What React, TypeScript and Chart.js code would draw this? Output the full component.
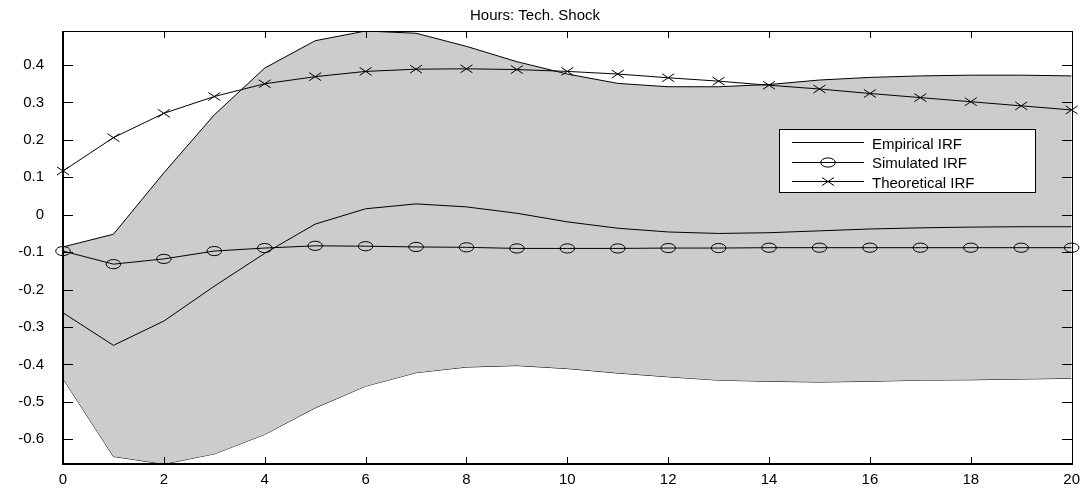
import React, { useEffect, useRef } from 'react';
import { Chart, registerables } from 'chart.js';

Chart.register(...registerables);

const chartTitle = 'Hours: Tech. Shock';
const horizons = [0, 1, 2, 3, 4, 5, 6, 7, 8, 9, 10, 11, 12, 13, 14, 15, 16, 17, 18, 19, 20];
const upperBand = [-0.086, -0.052, 0.112, 0.267, 0.392, 0.465, 0.491, 0.485, 0.45, 0.409, 0.376, 0.351, 0.342, 0.342, 0.348, 0.36, 0.367, 0.371, 0.373, 0.373, 0.371];
const lowerBand = [-0.438, -0.646, -0.666, -0.639, -0.587, -0.516, -0.458, -0.422, -0.407, -0.403, -0.411, -0.423, -0.433, -0.442, -0.445, -0.447, -0.445, -0.442, -0.441, -0.439, -0.437];
const empiricalIRF = [-0.262, -0.349, -0.284, -0.191, -0.103, -0.025, 0.016, 0.029, 0.021, 0.004, -0.019, -0.036, -0.046, -0.05, -0.048, -0.043, -0.038, -0.035, -0.033, -0.032, -0.032];
const simulatedIRF = [-0.097, -0.132, -0.118, -0.097, -0.089, -0.083, -0.084, -0.086, -0.087, -0.09, -0.09, -0.09, -0.089, -0.089, -0.088, -0.088, -0.088, -0.088, -0.088, -0.088, -0.088];
const theoreticalIRF = [0.117, 0.206, 0.271, 0.316, 0.35, 0.369, 0.383, 0.389, 0.39, 0.388, 0.383, 0.376, 0.366, 0.357, 0.346, 0.336, 0.324, 0.313, 0.302, 0.291, 0.28];
const seriesLabels = ['Empirical IRF', 'Simulated IRF', 'Theoretical IRF'];
const xTicks = [0, 2, 4, 6, 8, 10, 12, 14, 16, 18, 20];
const yTicks = [-0.6, -0.5, -0.4, -0.3, -0.2, -0.1, 0, 0.1, 0.2, 0.3, 0.4];
const yMin = -0.666;
const yMax = 0.491;

const FONT = "'Liberation Sans', Arial, sans-serif";

type MarkerKind = 'none' | 'ellipse' | 'cross';

function drawMarker(ctx: CanvasRenderingContext2D, kind: MarkerKind, x: number, y: number) {
  ctx.beginPath();
  if (kind === 'ellipse') {
    ctx.ellipse(x, y, 7.3, 4.6, 0, 0, Math.PI * 2);
  } else if (kind === 'cross') {
    ctx.moveTo(x - 6, y - 4);
    ctx.lineTo(x + 6, y + 4);
    ctx.moveTo(x + 6, y - 4);
    ctx.lineTo(x - 6, y + 4);
  }
  ctx.stroke();
}

export default function App() {
  const ref = useRef<HTMLCanvasElement | null>(null);

  useEffect(() => {
    if (!ref.current) return;

    const markerPlugin = {
      id: 'markers',
      afterDatasetsDraw(chart: any) {
        const ctx = chart.ctx as CanvasRenderingContext2D;
        ctx.save();
        ctx.strokeStyle = '#000';
        ctx.lineWidth = 1;
        chart.data.datasets.forEach((ds: any, i: number) => {
          const kind: MarkerKind = ds.markerKind || 'none';
          if (kind === 'none') return;
          const meta = chart.getDatasetMeta(i);
          meta.data.forEach((pt: any) => drawMarker(ctx, kind, pt.x, pt.y));
        });
        ctx.restore();
      },
    };

    const framePlugin = {
      id: 'frame',
      afterDraw(chart: any) {
        const ctx = chart.ctx as CanvasRenderingContext2D;
        const a = chart.chartArea;
        const xs = chart.scales.x;
        const ys = chart.scales.y;
        const L = Math.round(a.left), R = Math.round(a.right), T = Math.round(a.top), B = Math.round(a.bottom);
        ctx.save();
        ctx.strokeStyle = '#000';
        ctx.lineWidth = 1;
        ctx.beginPath();
        for (const v of yTicks) {
          const y = Math.round(ys.getPixelForValue(v)) + 0.5;
          ctx.moveTo(L, y);
          ctx.lineTo(L + 10, y);
          ctx.moveTo(R, y);
          ctx.lineTo(R - 10, y);
        }
        for (const v of xTicks) {
          const x = Math.round(xs.getPixelForValue(v)) + 0.5;
          ctx.moveTo(x, B);
          ctx.lineTo(x, B - 7);
          ctx.moveTo(x, T);
          ctx.lineTo(x, T + 7);
        }
        ctx.stroke();
        ctx.beginPath();
        ctx.moveTo(L, T + 0.5);
        ctx.lineTo(R + 0.5, T + 0.5);
        ctx.lineTo(R + 0.5, B);
        ctx.stroke();
        ctx.lineWidth = 2;
        ctx.beginPath();
        ctx.moveTo(L, T);
        ctx.lineTo(L, B);
        ctx.lineTo(R + 1, B);
        ctx.stroke();

        ctx.fillStyle = '#000';
        ctx.font = `15px ${FONT}`;
        ctx.textAlign = 'center';
        ctx.textBaseline = 'alphabetic';
        ctx.fillText(chartTitle, 535, 19.5);

        const bx = 779.5, by = 129.5, bw = 256, bh = 63;
        ctx.fillStyle = '#fff';
        ctx.fillRect(bx, by, bw, bh);
        ctx.lineWidth = 1;
        ctx.strokeStyle = '#000';
        ctx.strokeRect(bx, by, bw, bh);
        const rows = [142, 161.5, 181];
        const markers: MarkerKind[] = ['none', 'ellipse', 'cross'];
        ctx.textAlign = 'left';
        ctx.fillStyle = '#000';
        rows.forEach((ry, i) => {
          const yy = Math.round(ry) + 0.5;
          ctx.beginPath();
          ctx.moveTo(792, yy);
          ctx.lineTo(864, yy);
          ctx.stroke();
          drawMarker(ctx, markers[i], 828, yy);
          ctx.fillText(seriesLabels[i], 872, ry + 6.5);
        });
        ctx.restore();
      },
    };

    const chart = new Chart(ref.current, {
      type: 'line',
      data: {
        labels: horizons,
        datasets: [
          {
            label: 'upper',
            data: horizons.map((h, i) => ({ x: h, y: upperBand[i] })),
            borderColor: '#000',
            borderWidth: 1,
            backgroundColor: '#cccccc',
            fill: '+1',
            pointRadius: 0,
            order: 10,
          },
          {
            label: 'lower',
            data: horizons.map((h, i) => ({ x: h, y: lowerBand[i] })),
            borderColor: '#000',
            borderWidth: 1,
            fill: false,
            pointRadius: 0,
            order: 10,
          },
          {
            label: seriesLabels[0],
            data: horizons.map((h, i) => ({ x: h, y: empiricalIRF[i] })),
            borderColor: '#000',
            borderWidth: 1,
            fill: false,
            pointRadius: 0,
            order: 2,
          },
          {
            label: seriesLabels[1],
            data: horizons.map((h, i) => ({ x: h, y: simulatedIRF[i] })),
            borderColor: '#000',
            borderWidth: 1,
            fill: false,
            pointRadius: 0,
            markerKind: 'ellipse',
            order: 1,
          } as any,
          {
            label: seriesLabels[2],
            data: horizons.map((h, i) => ({ x: h, y: theoreticalIRF[i] })),
            borderColor: '#000',
            borderWidth: 1,
            fill: false,
            pointRadius: 0,
            markerKind: 'cross',
            order: 0,
          } as any,
        ],
      },
      options: {
        animation: false,
        responsive: false,
        layout: { padding: { top: 31, right: 11, left: 0, bottom: 0 } },
        plugins: {
          legend: { display: false },
          title: { display: false },
          tooltip: { enabled: false },
        },
        scales: {
          x: {
            type: 'linear',
            min: 0,
            max: 20,
            grid: { display: false, drawTicks: false },
            border: { display: false },
            afterBuildTicks: (s: any) => {
              s.ticks = xTicks.map((v) => ({ value: v }));
            },
            afterFit: (s: any) => {
              s.height = 29;
            },
            ticks: {
              color: '#000',
              font: { family: FONT, size: 15 },
              padding: 7,
              maxRotation: 0,
              autoSkip: false,
              callback: (v: any) => String(v),
            },
          },
          y: {
            type: 'linear',
            min: yMin,
            max: yMax,
            grid: { display: false, drawTicks: false },
            border: { display: false },
            afterBuildTicks: (s: any) => {
              s.ticks = yTicks.map((v) => ({ value: v }));
            },
            afterFit: (s: any) => {
              s.width = 63;
            },
            ticks: {
              color: '#000',
              font: { family: FONT, size: 15 },
              padding: 19,
              autoSkip: false,
              callback: (v: any) => String(v),
            },
          },
        },
      },
      plugins: [markerPlugin, framePlugin],
    });
    return () => chart.destroy();
  }, []);

  return (
    <div style={{ position: 'absolute', left: 0, top: 0, width: 1087, height: 493, background: '#fff' }}>
      <canvas ref={ref} width={1087} height={493} style={{ display: 'block', width: 1087, height: 493 }} />
    </div>
  );
}
